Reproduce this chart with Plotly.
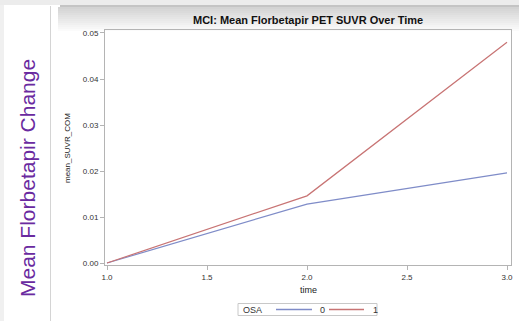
import plotly.graph_objects as go

time = [1.0, 2.0, 3.0]
osa0 = [0.0, 0.0128, 0.0196]
osa1 = [0.0, 0.0146, 0.0480]
groups = ["0", "1"]
colors = ["#7f8cc8", "#c87474"]
legend_title = "OSA"

W, H = 519, 321
L, R, T, B = 105, 8, 30, 56
pw, ph = W - L - R, H - T - B

def px(x):
    return (x - L) / pw

def py(y):
    return (H - B - y) / ph

fig = go.Figure()
for name, ys, c in zip(groups, [osa0, osa1], colors):
    fig.add_trace(go.Scatter(x=time, y=ys, mode="lines", name=name,
                             line=dict(color=c, width=1.2), showlegend=False))

shapes = []
shapes.append(dict(type="rect", xref="paper", yref="paper", x0=px(0), x1=px(4), y0=py(H), y1=py(0),
                   fillcolor="#f0f0f0", line_width=0, layer="below"))
shapes.append(dict(type="line", xref="paper", yref="paper", x0=px(50.5), x1=px(50.5), y0=py(H), y1=py(6),
                   line=dict(color="#d4d4d4", width=1), layer="below"))
shapes.append(dict(type="rect", xref="paper", yref="paper", x0=px(0), x1=px(W), y0=py(5), y1=py(0),
                   fillcolor="#ececec", line_width=0, layer="below"))
shapes.append(dict(type="rect", xref="paper", yref="paper", x0=px(60), x1=px(W), y0=py(7), y1=py(5),
                   fillcolor="#c4c4c4", line_width=0, layer="below"))
n = 12
for i in range(n):
    y0 = 7 + i * 2
    g = int(208 + (255 - 208) * (i + 1) / (n + 1))
    shapes.append(dict(type="rect", xref="paper", yref="paper", x0=px(58), x1=px(W),
                       y0=py(y0 + 2), y1=py(y0), fillcolor=f"rgb({g},{g},{g})",
                       line_width=0, layer="below"))

# manual legend
LY = 309.5
shapes.append(dict(type="rect", xref="paper", yref="paper", x0=px(238), x1=px(377), y0=py(315.5), y1=py(303.5),
                   fillcolor="white", line=dict(color="#c8c8c8", width=1)))
annotations = [
    dict(text=legend_title, xref="paper", yref="paper", x=px(241), y=py(LY), showarrow=False,
         font=dict(size=9, color="#333333"), xanchor="left", yanchor="middle"),
]
leg_items = [(276, 312, 318), (329, 364, 371)]
for (x0, x1, tx), name, c in zip(leg_items, groups, colors):
    shapes.append(dict(type="line", xref="paper", yref="paper", x0=px(x0), x1=px(x1), y0=py(LY), y1=py(LY),
                       line=dict(color=c, width=1.5)))
    annotations.append(dict(text=name, xref="paper", yref="paper", x=px(tx), y=py(LY), showarrow=False,
                            font=dict(size=9, color="#333333"), xanchor="left", yanchor="middle"))

annotations += [
    dict(text="<b>MCI: Mean Florbetapir PET SUVR Over Time</b>", xref="paper", yref="paper",
         x=px(308), y=py(20), showarrow=False, font=dict(size=11, color="#111111"),
         xanchor="center", yanchor="middle"),
    dict(text="Mean Florbetapir Change", xref="paper", yref="paper",
         x=px(27), y=py(178), textangle=-90, showarrow=False,
         font=dict(size=21, color="#6a2aa0"), xanchor="center", yanchor="middle"),
    dict(text="mean_SUVR_COM", xref="paper", yref="paper",
         x=px(67), y=py(148), textangle=-90, showarrow=False,
         font=dict(size=8, color="#222222"), xanchor="center", yanchor="middle"),
    dict(text="time", xref="paper", yref="paper",
         x=px(308), y=py(290), showarrow=False,
         font=dict(size=9, color="#222222"), xanchor="center", yanchor="middle"),
]

fig.update_layout(
    width=W, height=H,
    margin=dict(l=L, r=R, t=T, b=B, autoexpand=False),
    paper_bgcolor="white", plot_bgcolor="white",
    font=dict(family="Liberation Sans, Arial, sans-serif", color="#333333", size=8),
    shapes=shapes,
    annotations=annotations,
    xaxis=dict(range=[0.99, 3.02], tickvals=[1.0, 1.5, 2.0, 2.5, 3.0], tickformat=".1f",
               showgrid=False, zeroline=False, showline=True, mirror=True, automargin=False,
               linecolor="#b4b4b4", linewidth=1, ticks="outside", ticklen=4,
               tickcolor="#b4b4b4", tickfont=dict(size=8, color="#333333")),
    yaxis=dict(range=[-0.00043, 0.05065], tickvals=[0, 0.01, 0.02, 0.03, 0.04, 0.05], tickformat=".2f",
               showgrid=False, zeroline=False, showline=True, mirror=True, automargin=False,
               linecolor="#b4b4b4", linewidth=1, ticks="outside", ticklen=4,
               tickcolor="#b4b4b4", tickfont=dict(size=8, color="#333333")),
    showlegend=False,
)

fig.write_html("out.html")
